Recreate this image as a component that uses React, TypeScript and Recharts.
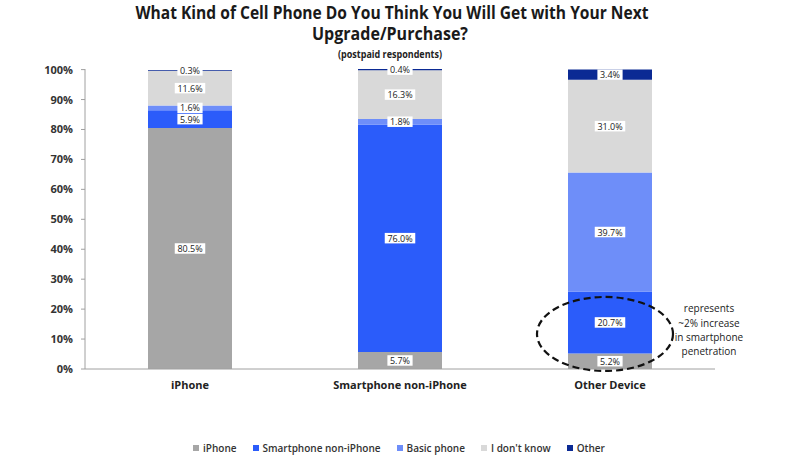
import React from "react";
import { BarChart, Bar, XAxis, YAxis, LabelList, ReferenceDot } from "recharts";

const categories = ["iPhone", "Smartphone non-iPhone", "Other Device"];
const seriesNames = ["iPhone", "Smartphone non-iPhone", "Basic phone", "I don't know", "Other"];
const seriesKeys = ["iphone", "smartphone", "basic", "dontknow", "other"];
const seriesColors = ["#a6a6a6", "#2b5cfa", "#6e8ef9", "#d9d9d9", "#0b2a94"];
const iphoneValues = [80.5, 5.7, 5.2];
const smartphoneValues = [5.9, 76.0, 20.7];
const basicValues = [1.6, 1.8, 39.7];
const dontKnowValues = [11.6, 16.3, 31.0];
const otherValues = [0.3, 0.4, 3.4];
const yTicks = [0, 10, 20, 30, 40, 50, 60, 70, 80, 90, 100];
const annotationLines = ["represents", "~2% increase", "in smartphone", "penetration"];

const valuesByKey: Record<string, number[]> = {
  iphone: iphoneValues,
  smartphone: smartphoneValues,
  basic: basicValues,
  dontknow: dontKnowValues,
  other: otherValues,
};

const data = categories.map((c, i) => {
  const row: Record<string, any> = { name: c };
  seriesKeys.forEach((k) => (row[k] = valuesByKey[k][i]));
  return row;
});

const FONT = "'Open Sans', 'Noto Sans', sans-serif";

const BoxLabel = (props: any) => {
  const { x, y, width, height, value } = props;
  if (value == null) return null;
  const text = `${Number(value).toFixed(1)}%`;
  const cx = x + width / 2;
  const cy = y + height / 2;
  const w = text.length * 5.3 + 4;
  const h = 10.5;
  return (
    <g>
      <rect x={cx - w / 2} y={cy - h / 2} width={w} height={h} fill="#ffffff" />
      <text x={cx} y={cy} textAnchor="middle" dominantBaseline="central" fontSize={9} fontFamily={FONT} fill="#222">
        {text}
      </text>
    </g>
  );
};

const CategoryTick = (props: any) => {
  const { x, y, payload } = props;
  return (
    <text x={x} y={y} dy={12} textAnchor="middle" fontSize={11} fontWeight={700} fontFamily={FONT} fill="#222">
      {payload.value}
    </text>
  );
};

const PercentTick = (props: any) => {
  const { x, y, payload } = props;
  return (
    <text x={x} y={y} dx={-6} dy={4} textAnchor="end" fontSize={11} fontWeight={700} fontFamily={FONT} fill="#333">
      {`${payload.value}%`}
    </text>
  );
};

const Annotation = (props: any) => {
  const { cx, cy } = props;
  if (cx == null || cy == null) return null;
  return (
    <g>
      <ellipse cx={cx - 5} cy={cy} rx={68} ry={37} fill="none" stroke="#111" strokeWidth={2.2} strokeDasharray="7 4" />
      {annotationLines.map((l, i) => (
        <text key={i} x={cx + 99} y={cy - 21.5 + i * 14.2} textAnchor="middle" fontSize={10} fontFamily={FONT} fill="#222">
          {l}
        </text>
      ))}
    </g>
  );
};

export default function App() {
  return (
    <div style={{ position: "absolute", left: 0, top: 0, width: 800, height: 459, background: "#fff" }}>
      <div style={{ position: "absolute", left: 0, top: 0 }}>
        <BarChart width={800} height={459} data={data} margin={{ top: 69, right: 85, bottom: 60, left: 40 }} barCategoryGap="30%">
          <XAxis dataKey="name" axisLine={{ stroke: "#a0a0a0" }} tickLine={false} tick={<CategoryTick />} height={30} />
          <YAxis domain={[0, 100]} ticks={yTicks} interval={0} width={45} axisLine={{ stroke: "#a0a0a0" }} tickLine={{ stroke: "#a0a0a0" }} tickSize={4} tick={<PercentTick />} />
          {seriesKeys.map((k, i) => (
            <Bar key={k} dataKey={k} name={seriesNames[i]} stackId="a" fill={seriesColors[i]} isAnimationActive={false}>
              <LabelList dataKey={k} content={<BoxLabel />} />
            </Bar>
          ))}
          <ReferenceDot x="Other Device" y={11.7} r={0} shape={<Annotation />} ifOverflow="visible" />
        </BarChart>
      </div>
      <svg width={800} height={66} style={{ position: "absolute", left: 0, top: 0 }}>
        <text x={392} y={19} textAnchor="middle" fontSize={18.5} fontWeight={700} fontFamily={FONT} fill="#1a1a1a" textLength={513} lengthAdjust="spacingAndGlyphs">
          What Kind of Cell Phone Do You Think You Will Get with Your Next
        </text>
        <text x={390} y={40} textAnchor="middle" fontSize={18.5} fontWeight={700} fontFamily={FONT} fill="#1a1a1a" textLength={156} lengthAdjust="spacingAndGlyphs">
          Upgrade/Purchase?
        </text>
        <text x={390} y={58} textAnchor="middle" fontSize={10} fontWeight={700} fontFamily={FONT} fill="#222" textLength={104} lengthAdjust="spacingAndGlyphs">
          (postpaid respondents)
        </text>
      </svg>
      <div style={{ position: "absolute", left: 193, top: 441, display: "flex", alignItems: "center", fontFamily: FONT, fontSize: 10, fontWeight: 600, color: "#333" }}>
        {seriesNames.map((n, i) => (
          <div key={n} style={{ display: "flex", alignItems: "center", marginRight: 16 }}>
            <span style={{ display: "inline-block", width: 6, height: 6, background: seriesColors[i], marginRight: 4 }} />
            <span>{n}</span>
          </div>
        ))}
      </div>
    </div>
  );
}
